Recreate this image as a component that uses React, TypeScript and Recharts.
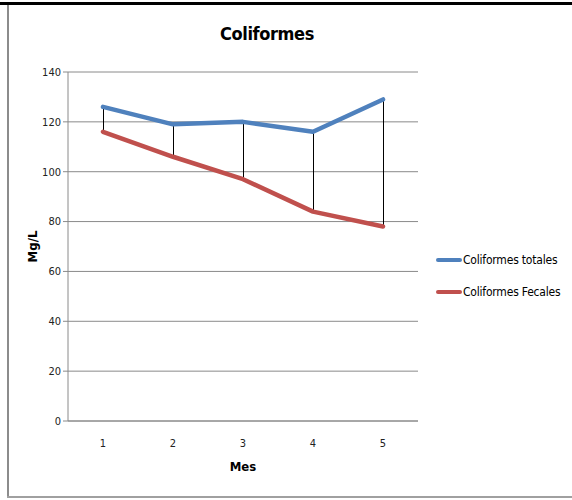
import React from "react";
import { ComposedChart, Line, Bar, XAxis, YAxis, CartesianGrid } from "recharts";

const meses = ["1", "2", "3", "4", "5"];
const totales = [126, 119, 120, 116, 129];
const fecales = [116, 106, 97, 84, 78];
const yTicks = [0, 20, 40, 60, 80, 100, 120, 140];

const series = [
  { key: "totales", name: "Coliformes totales", color: "#4f81bd" },
  { key: "fecales", name: "Coliformes Fecales", color: "#c0504d" },
];

const data = meses.map((mes, i) => ({
  mes,
  totales: totales[i],
  fecales: fecales[i],
  rango: [Math.min(totales[i], fecales[i]), Math.max(totales[i], fecales[i])],
}));

const font = "'DejaVu Sans Condensed', Roboto, Arial, sans-serif";
const gris = "#8a8a8a";

export default function App() {
  return (
    <div style={{ position: "absolute", top: 0, left: 0, width: 572, height: 500, background: "#fff" }}>
      <div style={{ position: "absolute", top: 2, left: 0, width: 572, height: 3, background: "#000" }} />
      <div style={{ position: "absolute", top: 5, left: 7, width: 2, height: 493, background: "#8c8c8c" }} />
      <div style={{ position: "absolute", top: 496, left: 7, width: 565, height: 2, background: "#a0a0a0" }} />
      <div
        style={{
          position: "absolute",
          top: 23,
          left: 0,
          width: 534,
          textAlign: "center",
          fontFamily: font,
          fontWeight: "bold",
          fontSize: 18,
          letterSpacing: -0.4,
          color: "#000",
        }}
      >
        Coliformes
      </div>
      <div style={{ position: "absolute", top: 0, left: 0 }}>
        <ComposedChart
          width={572}
          height={500}
          data={data}
          margin={{ top: 72, right: 154, bottom: 49, left: 8 }}
        >
          <CartesianGrid vertical={false} stroke={gris} strokeWidth={1} />
          <XAxis
            dataKey="mes"
            height={30}
            axisLine={{ stroke: gris }}
            tickLine={false}
            tick={{ fontFamily: font, fontSize: 11, fill: "#222" }}
            tickMargin={12}
            label={{ value: "Mes", position: "insideBottom", offset: -20, style: { fontFamily: font, fontSize: 13, fontWeight: "bold", fill: "#000" } }}
          />
          <YAxis
            width={60}
            domain={[0, 140]}
            ticks={yTicks}
            interval={0}
            axisLine={{ stroke: gris }}
            tickLine={{ stroke: gris }}
            tickSize={5}
            tick={{ fontFamily: font, fontSize: 11, fill: "#222" }}
            label={{ value: "Mg/L", angle: -90, position: "insideLeft", offset: 24, style: { fontFamily: font, fontSize: 13, fontWeight: "bold", fill: "#000", textAnchor: "middle" } }}
          />
          <Bar dataKey="rango" barSize={1} fill="#000" isAnimationActive={false} />
          {series.map((s) => (
            <Line
              key={s.key}
              type="linear"
              dataKey={s.key}
              name={s.name}
              stroke={s.color}
              strokeWidth={4.5}
              strokeLinecap="round"
              strokeLinejoin="round"
              dot={false}
              activeDot={false}
              isAnimationActive={false}
            />
          ))}
        </ComposedChart>
      </div>
      <div style={{ position: "absolute", left: 436, top: 244, fontFamily: font, fontSize: 12, letterSpacing: -0.2, color: "#000" }}>
        {series.map((s) => (
          <div key={s.key} style={{ display: "flex", alignItems: "center", height: 32, whiteSpace: "nowrap" }}>
            <span style={{ width: 26, height: 4, background: s.color, borderRadius: 2, marginRight: 1 }} />
            <span>{s.name}</span>
          </div>
        ))}
      </div>
    </div>
  );
}
